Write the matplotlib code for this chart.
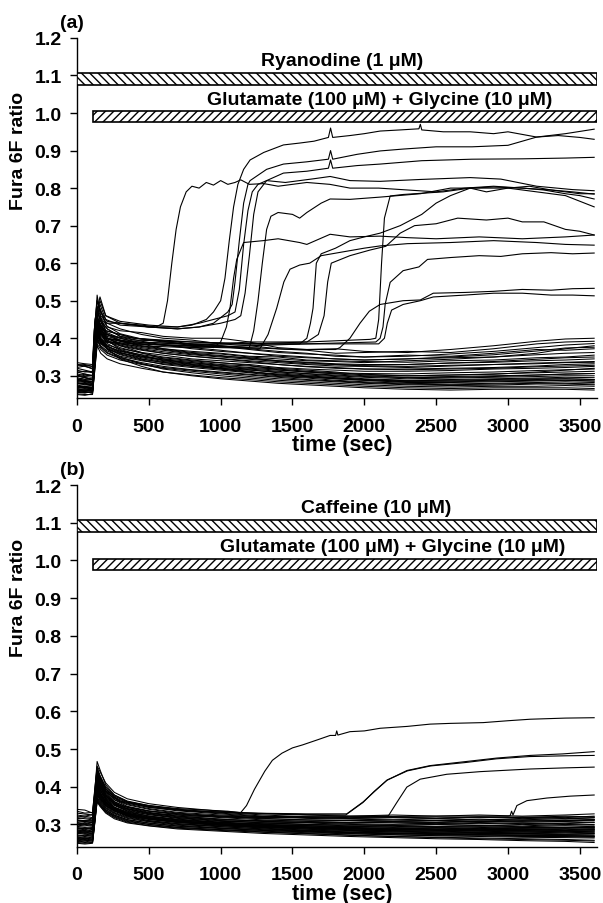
import numpy as np
import matplotlib.pyplot as plt
from matplotlib.patches import Rectangle

plt.rcParams['font.family'] = ['Liberation Sans', 'DejaVu Sans']
plt.rcParams['font.weight'] = 'bold'
plt.rcParams['hatch.linewidth'] = 1.0

# ---------------- data ----------------
x_ticks = [0, 500, 1000, 1500, 2000, 2500, 3000, 3500]
y_ticks = [0.3, 0.4, 0.5, 0.6, 0.7, 0.8, 0.9, 1.0, 1.1, 1.2]

# panel (a): non-responding cells, sampled on a common time grid
grid_a = [0, 55, 108, 120, 140, 165, 210, 300, 450, 600, 800, 1000, 1200, 1400,
          1600, 1800, 2000, 2300, 2600, 2900, 3200, 3400, 3600]
base_a = [
    [0.335, 0.332, 0.330, 0.420, 0.500, 0.470, 0.430, 0.420, 0.415, 0.405, 0.400, 0.400, 0.390, 0.375, 0.370, 0.372, 0.365, 0.362, 0.370, 0.380, 0.392, 0.398, 0.400],
    [0.322, 0.326, 0.318, 0.400, 0.515, 0.460, 0.440, 0.425, 0.410, 0.400, 0.395, 0.385, 0.380, 0.372, 0.368, 0.360, 0.362, 0.365, 0.362, 0.372, 0.385, 0.390, 0.392],
    [0.305, 0.300, 0.302, 0.380, 0.470, 0.445, 0.425, 0.405, 0.398, 0.392, 0.380, 0.378, 0.370, 0.362, 0.358, 0.355, 0.350, 0.355, 0.352, 0.360, 0.370, 0.368, 0.372],
    [0.295, 0.290, 0.292, 0.370, 0.455, 0.430, 0.415, 0.400, 0.388, 0.382, 0.375, 0.368, 0.360, 0.355, 0.350, 0.345, 0.342, 0.345, 0.348, 0.350, 0.356, 0.360, 0.362],
    [0.288, 0.285, 0.280, 0.355, 0.440, 0.420, 0.405, 0.395, 0.385, 0.372, 0.365, 0.360, 0.352, 0.350, 0.342, 0.340, 0.338, 0.336, 0.340, 0.342, 0.348, 0.350, 0.355],
    [0.280, 0.276, 0.278, 0.345, 0.430, 0.412, 0.398, 0.388, 0.375, 0.368, 0.358, 0.352, 0.348, 0.340, 0.336, 0.332, 0.330, 0.330, 0.334, 0.336, 0.340, 0.342, 0.345],
    [0.272, 0.270, 0.268, 0.335, 0.425, 0.405, 0.390, 0.380, 0.368, 0.360, 0.352, 0.346, 0.340, 0.335, 0.330, 0.326, 0.325, 0.322, 0.326, 0.330, 0.334, 0.336, 0.338],
    [0.265, 0.262, 0.264, 0.325, 0.415, 0.398, 0.382, 0.372, 0.362, 0.355, 0.345, 0.340, 0.335, 0.330, 0.324, 0.320, 0.318, 0.318, 0.320, 0.322, 0.326, 0.330, 0.332],
    [0.258, 0.256, 0.255, 0.318, 0.408, 0.392, 0.378, 0.366, 0.356, 0.348, 0.340, 0.334, 0.330, 0.322, 0.318, 0.315, 0.312, 0.312, 0.314, 0.318, 0.320, 0.322, 0.325],
    [0.252, 0.250, 0.250, 0.310, 0.400, 0.385, 0.372, 0.360, 0.350, 0.342, 0.335, 0.328, 0.322, 0.318, 0.312, 0.308, 0.306, 0.305, 0.308, 0.310, 0.314, 0.316, 0.318],
    [0.262, 0.266, 0.260, 0.330, 0.420, 0.400, 0.386, 0.368, 0.352, 0.345, 0.338, 0.330, 0.326, 0.320, 0.315, 0.310, 0.302, 0.300, 0.302, 0.305, 0.308, 0.310, 0.312],
    [0.275, 0.272, 0.275, 0.340, 0.436, 0.408, 0.392, 0.375, 0.360, 0.350, 0.342, 0.335, 0.328, 0.316, 0.310, 0.305, 0.300, 0.296, 0.298, 0.300, 0.302, 0.305, 0.306],
    [0.268, 0.270, 0.265, 0.322, 0.410, 0.390, 0.375, 0.362, 0.348, 0.338, 0.330, 0.322, 0.318, 0.312, 0.305, 0.300, 0.296, 0.292, 0.294, 0.296, 0.298, 0.300, 0.300],
    [0.285, 0.282, 0.286, 0.350, 0.445, 0.415, 0.395, 0.370, 0.355, 0.340, 0.332, 0.325, 0.316, 0.308, 0.302, 0.298, 0.292, 0.288, 0.290, 0.292, 0.294, 0.296, 0.295],
    [0.255, 0.258, 0.254, 0.305, 0.395, 0.380, 0.366, 0.352, 0.340, 0.332, 0.325, 0.318, 0.310, 0.305, 0.300, 0.295, 0.290, 0.285, 0.286, 0.288, 0.290, 0.292, 0.290],
    [0.300, 0.298, 0.296, 0.360, 0.450, 0.425, 0.402, 0.380, 0.362, 0.345, 0.330, 0.320, 0.312, 0.302, 0.298, 0.292, 0.288, 0.282, 0.282, 0.284, 0.286, 0.288, 0.286],
    [0.262, 0.258, 0.262, 0.315, 0.400, 0.378, 0.362, 0.348, 0.335, 0.325, 0.316, 0.310, 0.304, 0.298, 0.294, 0.288, 0.284, 0.280, 0.278, 0.280, 0.282, 0.284, 0.282],
    [0.250, 0.248, 0.252, 0.300, 0.385, 0.370, 0.355, 0.342, 0.330, 0.320, 0.312, 0.305, 0.298, 0.292, 0.288, 0.284, 0.280, 0.276, 0.274, 0.275, 0.278, 0.278, 0.276],
    [0.278, 0.280, 0.276, 0.335, 0.420, 0.395, 0.370, 0.350, 0.332, 0.318, 0.308, 0.300, 0.294, 0.288, 0.284, 0.280, 0.276, 0.272, 0.270, 0.272, 0.272, 0.274, 0.272],
    [0.258, 0.255, 0.258, 0.300, 0.380, 0.360, 0.345, 0.332, 0.320, 0.310, 0.302, 0.295, 0.290, 0.284, 0.280, 0.276, 0.272, 0.268, 0.266, 0.268, 0.268, 0.268, 0.266],
    [0.290, 0.295, 0.290, 0.350, 0.430, 0.400, 0.372, 0.345, 0.325, 0.310, 0.300, 0.292, 0.286, 0.280, 0.276, 0.272, 0.268, 0.264, 0.262, 0.264, 0.264, 0.264, 0.262],
    [0.310, 0.312, 0.308, 0.365, 0.460, 0.435, 0.412, 0.395, 0.380, 0.372, 0.362, 0.358, 0.350, 0.345, 0.340, 0.338, 0.335, 0.340, 0.344, 0.350, 0.360, 0.372, 0.380],
    [0.328, 0.330, 0.325, 0.395, 0.485, 0.455, 0.432, 0.412, 0.398, 0.390, 0.385, 0.380, 0.372, 0.365, 0.360, 0.352, 0.350, 0.352, 0.358, 0.365, 0.375, 0.382, 0.386],
    [0.270, 0.268, 0.270, 0.330, 0.415, 0.395, 0.378, 0.365, 0.352, 0.342, 0.335, 0.326, 0.320, 0.315, 0.310, 0.306, 0.304, 0.300, 0.302, 0.304, 0.310, 0.315, 0.320],
    [0.282, 0.286, 0.283, 0.345, 0.432, 0.410, 0.395, 0.382, 0.370, 0.360, 0.352, 0.345, 0.338, 0.330, 0.325, 0.322, 0.318, 0.316, 0.318, 0.320, 0.324, 0.326, 0.328],
    [0.260, 0.262, 0.260, 0.320, 0.405, 0.388, 0.372, 0.358, 0.344, 0.336, 0.328, 0.320, 0.315, 0.310, 0.306, 0.302, 0.298, 0.295, 0.296, 0.298, 0.302, 0.304, 0.306],
    [0.292, 0.288, 0.290, 0.355, 0.442, 0.418, 0.400, 0.385, 0.372, 0.364, 0.356, 0.350, 0.344, 0.338, 0.332, 0.330, 0.326, 0.325, 0.328, 0.330, 0.332, 0.335, 0.336],
    [0.270, 0.272, 0.268, 0.330, 0.418, 0.398, 0.380, 0.362, 0.345, 0.335, 0.326, 0.318, 0.310, 0.303, 0.298, 0.294, 0.290, 0.287, 0.288, 0.290, 0.292, 0.292, 0.290],
    [0.315, 0.310, 0.312, 0.380, 0.475, 0.450, 0.425, 0.405, 0.392, 0.382, 0.372, 0.365, 0.360, 0.352, 0.348, 0.345, 0.342, 0.345, 0.350, 0.356, 0.366, 0.374, 0.376],
    [0.256, 0.254, 0.258, 0.310, 0.395, 0.375, 0.360, 0.346, 0.332, 0.322, 0.315, 0.308, 0.302, 0.296, 0.290, 0.286, 0.282, 0.278, 0.276, 0.278, 0.280, 0.280, 0.278],
    [0.300, 0.304, 0.300, 0.365, 0.455, 0.430, 0.410, 0.392, 0.378, 0.370, 0.360, 0.354, 0.346, 0.340, 0.335, 0.330, 0.328, 0.330, 0.334, 0.338, 0.344, 0.348, 0.350],
    [0.266, 0.264, 0.266, 0.325, 0.410, 0.390, 0.372, 0.356, 0.342, 0.330, 0.322, 0.315, 0.308, 0.300, 0.296, 0.292, 0.288, 0.284, 0.284, 0.286, 0.288, 0.288, 0.286],
]

# panel (a): responding cells, (time, ratio) pairs
a_early = [(0, 0.33), (108, 0.325), (120, 0.42), (140, 0.50), (165, 0.47), (210, 0.445), (300, 0.44), (450, 0.435), (550, 0.43), (600, 0.44), (630, 0.50), (660, 0.60), (690, 0.69), (720, 0.75), (760, 0.79), (800, 0.805), (850, 0.80), (900, 0.815), (950, 0.808), (1000, 0.82), (1050, 0.81), (1100, 0.815), (1140, 0.822), (1200, 0.81), (1300, 0.812), (1400, 0.805), (1500, 0.81), (1600, 0.815), (1760, 0.81), (1900, 0.80), (2100, 0.80), (2300, 0.795), (2500, 0.79), (2700, 0.80), (2900, 0.805), (3100, 0.80), (3300, 0.795), (3500, 0.785), (3600, 0.785)]
a_r1 = [(0, 0.32), (108, 0.31), (125, 0.45), (160, 0.51), (200, 0.46), (300, 0.445), (500, 0.435), (700, 0.43), (800, 0.435), (900, 0.45), (950, 0.47), (1000, 0.50), (1030, 0.56), (1060, 0.66), (1090, 0.75), (1120, 0.81), (1160, 0.85), (1205, 0.875), (1300, 0.895), (1437, 0.915), (1550, 0.92), (1650, 0.925), (1750, 0.935), (1765, 0.96), (1780, 0.935), (1900, 0.94), (2000, 0.945), (2110, 0.952), (2250, 0.955), (2380, 0.958), (2390, 0.97), (2400, 0.955), (2550, 0.95), (2737, 0.95), (2900, 0.945), (3000, 0.95), (3200, 0.936), (3350, 0.94), (3500, 0.935), (3600, 0.93)]
a_r2 = [(0, 0.30), (108, 0.29), (125, 0.42), (160, 0.48), (200, 0.44), (300, 0.44), (500, 0.43), (700, 0.425), (850, 0.43), (950, 0.44), (1050, 0.47), (1080, 0.49), (1100, 0.55), (1130, 0.66), (1160, 0.76), (1190, 0.81), (1205, 0.82), (1320, 0.85), (1437, 0.864), (1600, 0.87), (1750, 0.877), (1765, 0.90), (1780, 0.877), (1950, 0.89), (2110, 0.899), (2270, 0.904), (2500, 0.91), (2750, 0.91), (3000, 0.914), (3200, 0.936), (3400, 0.945), (3600, 0.957)]
a_r3 = [(0, 0.31), (108, 0.30), (125, 0.43), (160, 0.49), (200, 0.45), (300, 0.435), (500, 0.43), (700, 0.43), (850, 0.44), (950, 0.45), (1050, 0.46), (1100, 0.47), (1130, 0.53), (1160, 0.65), (1190, 0.74), (1220, 0.79), (1260, 0.81), (1320, 0.82), (1437, 0.84), (1600, 0.845), (1750, 0.853), (1765, 0.875), (1780, 0.853), (1950, 0.86), (2110, 0.864), (2400, 0.873), (2750, 0.877), (3100, 0.878), (3400, 0.88), (3600, 0.882)]
a_r4 = [(0, 0.33), (108, 0.32), (125, 0.44), (160, 0.50), (200, 0.46), (300, 0.44), (500, 0.43), (700, 0.425), (850, 0.43), (1000, 0.44), (1100, 0.45), (1140, 0.46), (1170, 0.52), (1200, 0.62), (1230, 0.73), (1260, 0.79), (1300, 0.81), (1320, 0.82), (1450, 0.815), (1550, 0.82), (1650, 0.825), (1762, 0.831), (1900, 0.82), (2110, 0.818), (2390, 0.823), (2737, 0.828), (2950, 0.824), (3200, 0.805), (3450, 0.796), (3600, 0.793)]
a_r5 = [(0, 0.29), (108, 0.28), (125, 0.40), (160, 0.45), (200, 0.41), (400, 0.39), (700, 0.385), (1000, 0.38), (1200, 0.375), (1230, 0.42), (1260, 0.50), (1290, 0.60), (1320, 0.69), (1350, 0.725), (1400, 0.735), (1500, 0.73), (1550, 0.72), (1600, 0.735), (1700, 0.76), (1762, 0.771), (1900, 0.77), (2110, 0.776), (2390, 0.785), (2600, 0.80), (2800, 0.80), (3000, 0.80), (3200, 0.79), (3400, 0.78), (3500, 0.765), (3600, 0.75)]
a_r6 = [(0, 0.30), (108, 0.29), (125, 0.41), (160, 0.46), (200, 0.42), (400, 0.40), (700, 0.39), (950, 0.375), (1000, 0.39), (1040, 0.43), (1065, 0.48), (1090, 0.56), (1112, 0.61), (1160, 0.655), (1296, 0.66), (1400, 0.665), (1550, 0.655), (1600, 0.65), (1762, 0.677), (1900, 0.67), (2110, 0.672), (2300, 0.668), (2500, 0.665), (2800, 0.67), (3100, 0.665), (3400, 0.67), (3600, 0.675)]
a_r7 = [(0, 0.28), (108, 0.275), (125, 0.39), (160, 0.44), (200, 0.40), (400, 0.385), (700, 0.38), (1000, 0.375), (1275, 0.373), (1330, 0.41), (1390, 0.48), (1440, 0.55), (1483, 0.584), (1550, 0.595), (1620, 0.60), (1700, 0.62), (1850, 0.63), (2000, 0.64), (2110, 0.646), (2300, 0.652), (2600, 0.655), (2900, 0.66), (3200, 0.655), (3400, 0.65), (3600, 0.648)]
a_r8 = [(0, 0.27), (108, 0.27), (125, 0.38), (160, 0.43), (200, 0.40), (400, 0.39), (800, 0.385), (1200, 0.385), (1550, 0.385), (1600, 0.40), (1625, 0.44), (1643, 0.48), (1666, 0.60), (1700, 0.625), (1800, 0.64), (1900, 0.66), (2000, 0.67), (2110, 0.68), (2250, 0.70), (2400, 0.73), (2500, 0.76), (2600, 0.78), (2737, 0.80), (2850, 0.79), (3000, 0.80), (3150, 0.805), (3300, 0.795), (3450, 0.79), (3600, 0.784)]
a_r9 = [(0, 0.26), (108, 0.26), (125, 0.37), (160, 0.42), (200, 0.39), (400, 0.385), (800, 0.38), (1200, 0.39), (1600, 0.39), (1680, 0.41), (1720, 0.46), (1745, 0.55), (1770, 0.60), (1900, 0.62), (2040, 0.635), (2150, 0.645), (2250, 0.68), (2350, 0.70), (2500, 0.705), (2650, 0.72), (2850, 0.715), (3000, 0.72), (3100, 0.71), (3250, 0.71), (3400, 0.69), (3500, 0.685), (3600, 0.675)]
a_r10 = [(0, 0.29), (108, 0.285), (125, 0.40), (160, 0.45), (200, 0.42), (400, 0.40), (800, 0.39), (1200, 0.385), (1600, 0.39), (2040, 0.397), (2080, 0.40), (2100, 0.45), (2120, 0.60), (2140, 0.72), (2180, 0.779), (2270, 0.783), (2390, 0.786), (2550, 0.79), (2737, 0.80), (2900, 0.803), (3100, 0.80), (3250, 0.795), (3400, 0.785), (3500, 0.78), (3600, 0.771)]
a_r11 = [(0, 0.28), (108, 0.28), (125, 0.39), (160, 0.44), (200, 0.41), (400, 0.395), (800, 0.39), (1200, 0.385), (1600, 0.385), (2080, 0.39), (2110, 0.40), (2130, 0.43), (2145, 0.49), (2180, 0.549), (2270, 0.58), (2380, 0.59), (2440, 0.61), (2600, 0.615), (2800, 0.62), (2950, 0.618), (3100, 0.625), (3300, 0.628), (3450, 0.625), (3600, 0.627)]
a_r12 = [(0, 0.27), (108, 0.265), (125, 0.38), (160, 0.43), (200, 0.40), (400, 0.385), (800, 0.38), (1200, 0.375), (1500, 0.37), (1800, 0.37), (1830, 0.375), (1900, 0.40), (1970, 0.44), (2035, 0.472), (2110, 0.49), (2270, 0.50), (2390, 0.502), (2480, 0.52), (2700, 0.522), (2900, 0.525), (3100, 0.53), (3300, 0.528), (3450, 0.532), (3600, 0.533)]
a_r13 = [(0, 0.26), (108, 0.26), (125, 0.37), (160, 0.42), (200, 0.39), (400, 0.38), (800, 0.375), (1200, 0.38), (1600, 0.385), (2100, 0.385), (2140, 0.40), (2160, 0.44), (2190, 0.475), (2270, 0.49), (2390, 0.50), (2480, 0.51), (2700, 0.515), (2900, 0.52), (3100, 0.52), (3300, 0.515), (3450, 0.515), (3600, 0.513)]

# panel (b): non-responding cells
grid_b = [0, 55, 108, 120, 140, 160, 200, 260, 350, 500, 700, 1000, 1300, 1600,
          1900, 2200, 2500, 2800, 3100, 3400, 3600]
base_b = [
    [0.340, 0.338, 0.330, 0.380, 0.455, 0.440, 0.410, 0.385, 0.368, 0.355, 0.345, 0.335, 0.328, 0.325, 0.322, 0.325, 0.322, 0.325, 0.322, 0.325, 0.328],
    [0.325, 0.322, 0.326, 0.370, 0.467, 0.445, 0.405, 0.378, 0.362, 0.350, 0.340, 0.332, 0.325, 0.320, 0.318, 0.320, 0.316, 0.320, 0.318, 0.322, 0.320],
    [0.318, 0.315, 0.312, 0.360, 0.440, 0.425, 0.395, 0.372, 0.358, 0.346, 0.336, 0.328, 0.320, 0.316, 0.314, 0.312, 0.315, 0.312, 0.316, 0.314, 0.318],
    [0.310, 0.308, 0.305, 0.350, 0.430, 0.415, 0.388, 0.366, 0.352, 0.340, 0.330, 0.322, 0.316, 0.312, 0.310, 0.308, 0.310, 0.306, 0.310, 0.308, 0.312],
    [0.302, 0.300, 0.298, 0.345, 0.420, 0.405, 0.380, 0.360, 0.346, 0.335, 0.326, 0.318, 0.312, 0.308, 0.305, 0.304, 0.302, 0.305, 0.302, 0.304, 0.306],
    [0.295, 0.292, 0.294, 0.340, 0.412, 0.398, 0.374, 0.355, 0.342, 0.330, 0.322, 0.314, 0.308, 0.304, 0.300, 0.298, 0.300, 0.298, 0.296, 0.300, 0.298],
    [0.288, 0.290, 0.286, 0.332, 0.405, 0.390, 0.368, 0.350, 0.336, 0.326, 0.318, 0.310, 0.304, 0.300, 0.296, 0.295, 0.292, 0.294, 0.292, 0.290, 0.294],
    [0.282, 0.280, 0.282, 0.325, 0.398, 0.385, 0.362, 0.345, 0.332, 0.322, 0.314, 0.306, 0.300, 0.296, 0.292, 0.290, 0.288, 0.286, 0.288, 0.286, 0.288],
    [0.276, 0.274, 0.272, 0.318, 0.392, 0.378, 0.356, 0.340, 0.328, 0.318, 0.310, 0.302, 0.296, 0.292, 0.288, 0.286, 0.284, 0.282, 0.280, 0.282, 0.280],
    [0.270, 0.268, 0.270, 0.312, 0.385, 0.372, 0.350, 0.335, 0.322, 0.313, 0.305, 0.298, 0.292, 0.288, 0.284, 0.280, 0.280, 0.278, 0.276, 0.275, 0.276],
    [0.265, 0.262, 0.264, 0.306, 0.380, 0.366, 0.345, 0.330, 0.318, 0.308, 0.300, 0.294, 0.288, 0.284, 0.280, 0.277, 0.275, 0.273, 0.272, 0.270, 0.270],
    [0.260, 0.258, 0.256, 0.300, 0.372, 0.360, 0.340, 0.325, 0.313, 0.304, 0.296, 0.290, 0.284, 0.280, 0.276, 0.273, 0.270, 0.268, 0.266, 0.265, 0.264],
    [0.255, 0.252, 0.254, 0.295, 0.365, 0.354, 0.335, 0.320, 0.308, 0.300, 0.292, 0.286, 0.280, 0.276, 0.272, 0.268, 0.266, 0.264, 0.262, 0.260, 0.258],
    [0.250, 0.248, 0.250, 0.290, 0.360, 0.348, 0.330, 0.315, 0.304, 0.296, 0.288, 0.282, 0.276, 0.272, 0.268, 0.265, 0.262, 0.260, 0.257, 0.255, 0.252],
    [0.262, 0.265, 0.260, 0.310, 0.395, 0.380, 0.358, 0.338, 0.322, 0.310, 0.302, 0.296, 0.292, 0.290, 0.286, 0.284, 0.286, 0.284, 0.286, 0.284, 0.286],
    [0.285, 0.282, 0.285, 0.335, 0.425, 0.400, 0.370, 0.345, 0.328, 0.316, 0.308, 0.302, 0.298, 0.296, 0.294, 0.296, 0.294, 0.296, 0.294, 0.296, 0.294],
    [0.300, 0.305, 0.300, 0.345, 0.435, 0.410, 0.378, 0.352, 0.335, 0.322, 0.312, 0.305, 0.302, 0.300, 0.302, 0.300, 0.304, 0.302, 0.304, 0.302, 0.305],
    [0.315, 0.318, 0.315, 0.355, 0.445, 0.420, 0.390, 0.365, 0.348, 0.336, 0.328, 0.320, 0.315, 0.312, 0.310, 0.312, 0.310, 0.314, 0.312, 0.316, 0.314],
    [0.258, 0.262, 0.258, 0.302, 0.380, 0.368, 0.350, 0.336, 0.324, 0.315, 0.306, 0.300, 0.295, 0.292, 0.290, 0.288, 0.290, 0.288, 0.290, 0.292, 0.290],
    [0.275, 0.278, 0.275, 0.322, 0.405, 0.385, 0.360, 0.342, 0.330, 0.320, 0.312, 0.305, 0.300, 0.297, 0.295, 0.292, 0.294, 0.292, 0.290, 0.292, 0.292],
    [0.292, 0.288, 0.292, 0.338, 0.418, 0.395, 0.366, 0.344, 0.330, 0.318, 0.308, 0.298, 0.290, 0.285, 0.282, 0.280, 0.278, 0.276, 0.276, 0.274, 0.275],
    [0.305, 0.302, 0.305, 0.348, 0.428, 0.405, 0.375, 0.352, 0.338, 0.326, 0.316, 0.308, 0.306, 0.305, 0.304, 0.306, 0.305, 0.308, 0.306, 0.308, 0.310],
    [0.252, 0.250, 0.252, 0.292, 0.365, 0.352, 0.335, 0.322, 0.310, 0.300, 0.292, 0.286, 0.282, 0.278, 0.275, 0.272, 0.270, 0.270, 0.268, 0.268, 0.266],
    [0.268, 0.272, 0.268, 0.315, 0.390, 0.374, 0.352, 0.336, 0.324, 0.314, 0.306, 0.298, 0.294, 0.290, 0.286, 0.283, 0.282, 0.280, 0.281, 0.280, 0.282],
    [0.335, 0.330, 0.332, 0.375, 0.450, 0.430, 0.400, 0.378, 0.360, 0.348, 0.338, 0.330, 0.322, 0.318, 0.316, 0.318, 0.316, 0.318, 0.320, 0.318, 0.322],
    [0.280, 0.276, 0.278, 0.322, 0.400, 0.382, 0.358, 0.340, 0.326, 0.316, 0.308, 0.300, 0.296, 0.292, 0.290, 0.287, 0.286, 0.284, 0.285, 0.284, 0.285],
    [0.298, 0.296, 0.300, 0.342, 0.425, 0.405, 0.376, 0.355, 0.340, 0.328, 0.318, 0.310, 0.304, 0.300, 0.298, 0.297, 0.299, 0.297, 0.300, 0.298, 0.300],
    [0.312, 0.310, 0.308, 0.352, 0.438, 0.415, 0.385, 0.360, 0.345, 0.332, 0.322, 0.314, 0.308, 0.306, 0.305, 0.307, 0.306, 0.309, 0.308, 0.311, 0.312],
    [0.278, 0.280, 0.276, 0.318, 0.395, 0.380, 0.356, 0.338, 0.326, 0.316, 0.306, 0.298, 0.292, 0.287, 0.284, 0.282, 0.280, 0.279, 0.278, 0.279, 0.278],
    [0.266, 0.264, 0.266, 0.308, 0.385, 0.370, 0.348, 0.332, 0.320, 0.310, 0.302, 0.294, 0.288, 0.283, 0.278, 0.275, 0.273, 0.272, 0.270, 0.270, 0.268],
    [0.253, 0.256, 0.252, 0.294, 0.362, 0.350, 0.332, 0.318, 0.306, 0.297, 0.290, 0.284, 0.279, 0.275, 0.271, 0.268, 0.265, 0.262, 0.260, 0.258, 0.256],
    [0.288, 0.286, 0.290, 0.330, 0.410, 0.392, 0.365, 0.346, 0.333, 0.322, 0.312, 0.304, 0.298, 0.294, 0.291, 0.290, 0.291, 0.289, 0.291, 0.290, 0.291],
    [0.320, 0.322, 0.318, 0.362, 0.450, 0.428, 0.395, 0.370, 0.354, 0.342, 0.332, 0.325, 0.320, 0.318, 0.316, 0.318, 0.317, 0.319, 0.318, 0.320, 0.319],
    [0.272, 0.270, 0.273, 0.314, 0.392, 0.376, 0.354, 0.337, 0.325, 0.315, 0.307, 0.300, 0.295, 0.291, 0.288, 0.285, 0.285, 0.283, 0.284, 0.282, 0.283],
    [0.258, 0.256, 0.259, 0.298, 0.370, 0.357, 0.338, 0.324, 0.312, 0.303, 0.295, 0.289, 0.284, 0.281, 0.278, 0.276, 0.274, 0.273, 0.271, 0.270, 0.268],
    [0.306, 0.308, 0.304, 0.346, 0.432, 0.410, 0.380, 0.357, 0.342, 0.330, 0.320, 0.312, 0.310, 0.309, 0.310, 0.308, 0.311, 0.309, 0.312, 0.310, 0.313],
    [0.283, 0.284, 0.281, 0.326, 0.405, 0.386, 0.360, 0.342, 0.328, 0.318, 0.309, 0.302, 0.297, 0.293, 0.290, 0.288, 0.287, 0.287, 0.286, 0.288, 0.287],
    [0.262, 0.260, 0.262, 0.304, 0.378, 0.363, 0.343, 0.328, 0.316, 0.307, 0.298, 0.291, 0.286, 0.282, 0.279, 0.277, 0.276, 0.275, 0.274, 0.273, 0.272],
]

# panel (b): responding cells
b_r1 = [(0, 0.33), (108, 0.325), (120, 0.37), (145, 0.44), (165, 0.42), (200, 0.395), (260, 0.375), (350, 0.36), (500, 0.35), (700, 0.342), (900, 0.338), (1050, 0.335), (1139, 0.331), (1180, 0.35), (1235, 0.393), (1307, 0.441), (1360, 0.47), (1427, 0.489), (1500, 0.503), (1571, 0.511), (1679, 0.525), (1762, 0.536), (1800, 0.536), (1808, 0.548), (1816, 0.537), (1900, 0.546), (2000, 0.548), (2110, 0.555), (2300, 0.56), (2458, 0.566), (2600, 0.568), (2827, 0.57), (3000, 0.575), (3155, 0.579), (3400, 0.582), (3600, 0.583)]
b_r2 = [(0, 0.30), (108, 0.298), (120, 0.35), (145, 0.43), (165, 0.41), (200, 0.385), (300, 0.36), (500, 0.345), (800, 0.335), (1200, 0.33), (1600, 0.328), (1878, 0.328), (1993, 0.36), (2064, 0.385), (2157, 0.417), (2297, 0.443), (2458, 0.456), (2690, 0.466), (2922, 0.476), (3155, 0.483), (3380, 0.487), (3600, 0.493)]
b_r3 = [(0, 0.31), (108, 0.31), (120, 0.36), (145, 0.44), (165, 0.42), (200, 0.39), (300, 0.362), (500, 0.348), (800, 0.336), (1200, 0.33), (1600, 0.326), (1870, 0.325), (1990, 0.358), (2070, 0.388), (2160, 0.418), (2300, 0.442), (2460, 0.455), (2700, 0.464), (2920, 0.474), (3150, 0.48), (3400, 0.482), (3600, 0.483)]
b_r4 = [(0, 0.29), (108, 0.29), (120, 0.34), (145, 0.42), (165, 0.40), (200, 0.375), (300, 0.35), (500, 0.335), (800, 0.325), (1200, 0.32), (1700, 0.322), (2100, 0.322), (2168, 0.323), (2226, 0.358), (2296, 0.399), (2389, 0.42), (2574, 0.433), (2807, 0.44), (3155, 0.447), (3400, 0.45), (3600, 0.452)]
b_r5 = [(0, 0.28), (108, 0.28), (120, 0.33), (145, 0.41), (165, 0.39), (200, 0.37), (300, 0.345), (500, 0.33), (800, 0.322), (1200, 0.318), (1800, 0.32), (2500, 0.322), (3000, 0.322), (3015, 0.323), (3025, 0.335), (3035, 0.325), (3062, 0.35), (3132, 0.363), (3271, 0.37), (3434, 0.375), (3600, 0.378)]

rise_a = [a_early, a_r1, a_r2, a_r3, a_r4, a_r5, a_r6, a_r7, a_r8, a_r9, a_r10, a_r11, a_r12, a_r13]
rise_b = [b_r1, b_r2, b_r3, b_r4, b_r5]

# drug bars: (start, end, bottom, top), hatch, label text and label position
bars_a = [(0, 3620, 1.075, 1.107, '\\\\\\\\', 'Ryanodine (1 \u03bcM)', 1845, 1.14),
          (110, 3620, 0.975, 1.005, '////', 'Glutamate (100 \u03bcM) + Glycine (10 \u03bcM)', 2110, 1.037)]
bars_b = [(0, 3620, 1.075, 1.107, '\\\\\\\\', 'Caffeine (10 \u03bcM)', 2080, 1.14),
          (110, 3620, 0.975, 1.005, '////', 'Glutamate (100 \u03bcM) + Glycine (10 \u03bcM)', 2200, 1.037)]

# ---------------- plot ----------------
fig = plt.figure(figsize=(6.03, 9.04), dpi=100)
ax_a = fig.add_axes([0.1277, 0.5583, 0.8624, 0.3986])
ax_b = fig.add_axes([0.1277, 0.0619, 0.8624, 0.4004])


def draw_panel(ax, grid, base, rises, bars, tag):
    for row in base:
        ax.plot(grid, row, color='black', lw=0.75)
    for tr in rises:
        t, v = zip(*tr)
        ax.plot(t, v, color='black', lw=0.8)
    for x0, x1, y0, y1, hatch, label, tx, ty in bars:
        ax.add_patch(Rectangle((x0, y0), x1 - x0, y1 - y0, facecolor='white',
                               edgecolor='black', hatch=hatch, lw=1.2, zorder=3))
        ax.text(tx, ty, label, ha='center', va='center', fontsize=14, fontweight='bold')
    ax.set_xlim(0, 3620)
    ax.set_ylim(0.24, 1.2)
    ax.set_xticks(x_ticks)
    ax.set_yticks(y_ticks)
    ax.set_yticklabels(['%.1f' % y for y in y_ticks])
    ax.spines['top'].set_visible(False)
    ax.spines['right'].set_visible(False)
    ax.spines['left'].set_linewidth(1)
    ax.spines['bottom'].set_linewidth(1)
    ax.tick_params(axis='both', direction='out', length=5, width=1, labelsize=14)
    ax.tick_params(axis='x', pad=9)
    ax.tick_params(axis='y', pad=6)
    ax.set_xlabel('time (sec)', fontsize=15.5, fontweight='bold')
    ax.xaxis.set_label_coords(0.51, -0.1)
    ax.set_ylabel('Fura 6F ratio', fontsize=14, fontweight='bold')
    ax.yaxis.set_label_coords(-0.096, 0.69)
    ax.text(-0.009, 1.044, tag, transform=ax.transAxes, ha='center', va='center',
            fontsize=14, fontweight='bold')


draw_panel(ax_a, grid_a, base_a, rise_a, bars_a, '(a)')
draw_panel(ax_b, grid_b, base_b, rise_b, bars_b, '(b)')

fig.savefig('out.png', dpi=100)
